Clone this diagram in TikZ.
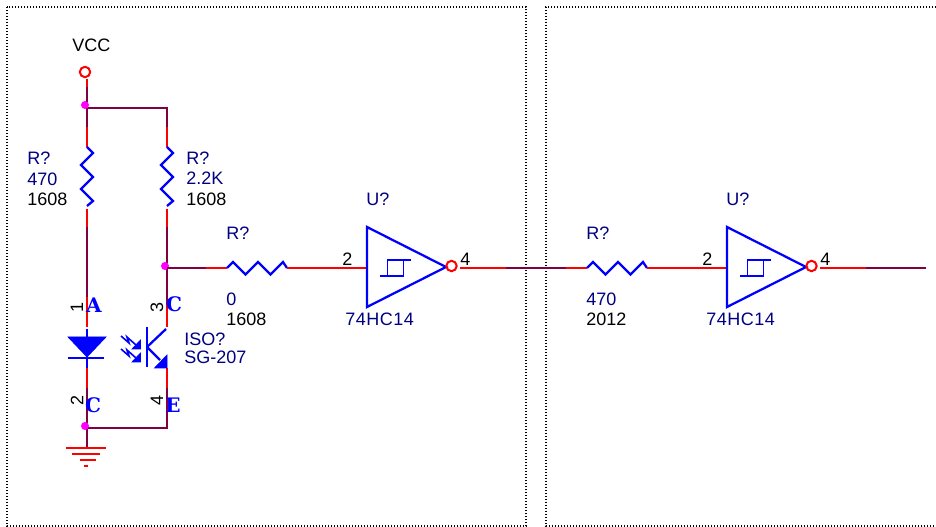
\documentclass[tikz,border=0pt]{standalone}
\usepackage{fontspec}
\setmainfont{Liberation Sans}
\newfontfamily\pinfont{DejaVu Serif}
\usetikzlibrary{positioning,calc}
\definecolor{wirecolor}{HTML}{FF0000}
\definecolor{netcolor}{HTML}{800040}
\definecolor{partcolor}{HTML}{0000FF}
\definecolor{labelcolor}{HTML}{000080}
\definecolor{dotcolor}{HTML}{FF00FF}

\begin{document}
\begin{tikzpicture}[x=0.75pt,y=-0.75pt]

    \tikzstyle{sheet}=[draw=black, line width=0.9pt, dash pattern=on 1.1pt off 1.15pt]
    \tikzstyle{wire}=[draw=wirecolor, line width=1.7pt]
    \tikzstyle{net}=[draw=netcolor, line width=1.7pt, line join=miter]
    \tikzstyle{part}=[draw=partcolor, line width=1.7pt, line join=miter]
    \tikzstyle{solid part}=[part, fill=partcolor, line width=0.5pt]
    \tikzstyle{junction}=[circle, fill=dotcolor, inner sep=0pt, minimum size=6pt]
    \tikzstyle{pinmark}=[circle, draw=wirecolor, line width=1.5pt, inner sep=0pt, minimum size=7.8pt]
    \tikzstyle{txt}=[anchor=west, inner sep=0pt, font=\fontsize{13.5}{15}\selectfont]
    \tikzstyle{ref}=[txt, text=labelcolor]
    \tikzstyle{val}=[txt, text=black]
    \tikzstyle{chip}=[ref, font=\fontsize{13.5}{15}\selectfont\addfontfeature{LetterSpace=2.8}]
    \tikzstyle{pinnum}=[val, anchor=center, rotate=90]
    \tikzstyle{pinname}=[anchor=center, inner sep=0pt, text=partcolor, font=\pinfont\bfseries\fontsize{15}{15}\selectfont]

    \useasboundingbox (0,0) rectangle (936,527);

    % sheets
    \coordinate (leftA) at (7,7);
    \coordinate (leftB) at (526,526);
    \coordinate (rightA) at (546,7);
    \coordinate (rightB) at (546,526);
    \coordinate (rightC) at (936,526);
    \coordinate (rightD) at (936,7);
    \draw[sheet] (leftA) rectangle (leftB);
    \draw[sheet] (rightD) -- (rightA) -- (rightB) -- (rightC);

    % supply and ground nets
    \node (vcc) at (85,72)[pinmark]{};
    \node (vccText) at (72,45)[val]{VCC};
    \coordinate (vccEnd) at (87,79);
    \coordinate (vccNet) at (87,87);
    \coordinate (topL) at (87,108);
    \coordinate (topR) at (167,108);
    \coordinate (r1In) at (87,127);
    \coordinate (r1Top) at (87,147);
    \coordinate (r2In) at (167,127);
    \coordinate (r2Top) at (167,147);
    \coordinate (r1Bot) at (87,209);
    \coordinate (r1Out) at (87,227);
    \coordinate (r2Bot) at (167,209);
    \coordinate (r2Out) at (167,227);
    \coordinate (midR) at (167,268);
    \coordinate (pinA) at (87,297);
    \coordinate (pinAEnd) at (87,327);
    \coordinate (pinC) at (167,305);
    \coordinate (pinCEnd) at (167,327);
    \coordinate (cathEnd) at (87,368);
    \coordinate (cathNet) at (87,388);
    \coordinate (emitEnd) at (167,368);
    \coordinate (emitNet) at (167,388);
    \coordinate (botL) at (87,428);
    \coordinate (botR) at (167,428);
    \coordinate (gnd) at (87,448);

    \draw[wire] (vccEnd) -- (vccNet);
    \draw[net] (vccNet) -- (r1In);
    \draw[net] (topL) -- (topR) -- (r2In);
    \draw[wire] (r1In) -- (r1Top);
    \draw[wire] (r2In) -- (r2Top);
    \draw[wire] (r1Bot) -- (r1Out);
    \draw[wire] (r2Bot) -- (r2Out);
    \draw[net] (r1Out) -- (pinA);
    \draw[net] (r2Out) -- (pinC);
    \draw[wire] (pinA) -- (pinAEnd);
    \draw[wire] (pinC) -- (pinCEnd);
    \draw[wire] (cathEnd) -- (cathNet);
    \draw[wire] (emitEnd) -- (emitNet);
    \draw[net] (cathNet) -- (gnd);
    \draw[net] (emitNet) -- (botR) -- (botL);

    \node (dotTop) at (85,105)[junction]{};
    \node (dotMid) at (165,266)[junction]{};
    \node (dotBot) at (85,426)[junction]{};

    % ground symbol
    \draw[wire] ($(gnd)+(-21,0)$) -- ($(gnd)+(19,0)$);
    \draw[wire] ($(gnd)+(-15,6)$) -- ($(gnd)+(13,6)$);
    \draw[wire] ($(gnd)+(-7,12)$) -- ($(gnd)+(9,12)$);
    \draw[wire] ($(gnd)+(-3,18)$) -- ($(gnd)+(1,18)$);

    % upright resistors
    \draw[part] (r1Top) -- ++(6,6) -- ++(-12,12) -- ++(12,12) -- ++(-12,12) -- ++(12,12) -- ++(-6,5);
    \draw[part] (r2Top) -- ++(6,6) -- ++(-12,12) -- ++(12,12) -- ++(-12,12) -- ++(12,12) -- ++(-6,5);
    \node (r1Ref) at (27,158)[ref]{R?};
    \node (r1Val) at (27,179)[ref]{470};
    \node (r1Pkg) at (27,199)[val]{1608};
    \node (r2Ref) at (186,158)[ref]{R?};
    \node (r2Val) at (186,178)[ref]{2.2K};
    \node (r2Pkg) at (186,199)[val]{1608};

    % diode
    \coordinate (ledIn) at (87,329);
    \coordinate (ledTip) at (87,358);
    \draw[part] (ledIn) -- (ledTip);
    \draw[solid part] (68,337) -- (106,337) -- (87,357) -- cycle;
    \draw[part] (68,358) -- (104,358);
    \draw[part] (ledTip) -- (cathEnd);
    \node (pin1) at (77,307)[pinnum]{1};
    \node (pin2) at (77,400)[pinnum]{2};
    \node (nameA) at (94,305)[pinname]{A};
    \node (nameK) at (93,405)[pinname]{C};

    % photo transistor
    \coordinate (baseTop) at (147,327);
    \coordinate (baseBot) at (147,367);
    \coordinate (baseMid) at (147,347);
    \draw[part] (baseTop) -- (baseBot);
    \draw[part] (baseMid) -- (166,329);
    \draw[part] (baseMid) -- (160,360);
    \draw[solid part] (167,355) -- (167,368) -- (154.5,368) -- cycle;
    \draw[part, line width=1.2pt] (121,336) -- (129,343) -- (127,337) -- (136,345);
    \draw[solid part] (140.5,340) -- (140.5,349) -- (132,349) -- cycle;
    \draw[part, line width=1.2pt] (121,349) -- (129,356) -- (127,350) -- (136,358);
    \draw[solid part] (140.5,353) -- (140.5,362) -- (132,362) -- cycle;
    \node (pin3) at (157,307)[pinnum]{3};
    \node (pin4) at (157,400)[pinnum]{4};
    \node (nameC) at (174,304)[pinname]{C};
    \node (nameE) at (173,405)[pinname]{E};
    \node (isoRef) at (184,339)[ref]{ISO?};
    \node (isoVal) at (184,357)[ref]{SG-207};

    % first stage
    \coordinate (r3Net) at (206,268);
    \coordinate (r3In) at (227,268);
    \coordinate (r3Out) at (287,268);
    \coordinate (u1In) at (366,268);
    \draw[net] (midR) -- (r3Net);
    \draw[wire] (r3Net) -- (r3In);
    \draw[part] (r3In) -- ++(6,-6) -- ++(12.5,12.5) -- ++(12.5,-12.5) -- ++(12.5,12.5) -- ++(12.5,-12.5) -- ++(4,6);
    \draw[wire] (r3Out) -- (u1In);
    \node (r3Ref) at (226,233)[ref]{R?};
    \node (r3Val) at (226,299)[ref]{0};
    \node (r3Pkg) at (226,319)[val]{1608};

    \draw[part] (367,227) -- (367,307) -- (446,267) -- cycle;
    \draw[part, line width=1.4pt] (380,276) -- (403.5,276) -- (403.5,260);
    \draw[part, line width=1.4pt] (387.5,276) -- (387.5,260) -- (411,260);
    \node (u1Bub) at (451.5,266)[pinmark]{};
    \node (u1Ref) at (366,199)[ref]{U?};
    \node (u1Val) at (345,319)[chip]{74HC14};
    \node (u1P2) at (342,259)[val]{2};
    \node (u1P4) at (460,259)[val]{4};

    % link over the sheet border
    \coordinate (u1Out) at (460,268);
    \coordinate (linkA) at (506,268);
    \coordinate (linkB) at (566,268);
    \coordinate (r4In) at (587,268);
    \coordinate (r4Out) at (647,268);
    \coordinate (u2In) at (726,268);
    \draw[wire] (u1Out) -- (linkA);
    \draw[net] (linkA) -- (linkB);
    \draw[wire] (linkB) -- (r4In);

    % second stage
    \draw[part] (r4In) -- ++(6,-6) -- ++(12.5,12.5) -- ++(12.5,-12.5) -- ++(12.5,12.5) -- ++(12.5,-12.5) -- ++(4,6);
    \draw[wire] (r4Out) -- (u2In);
    \node (r4Ref) at (586,233)[ref]{R?};
    \node (r4Val) at (586,299)[ref]{470};
    \node (r4Pkg) at (586,319)[val]{2012};

    \draw[part] (727,227) -- (727,307) -- (806,267) -- cycle;
    \draw[part, line width=1.4pt] (740,276) -- (763.5,276) -- (763.5,260);
    \draw[part, line width=1.4pt] (747.5,276) -- (747.5,260) -- (771,260);
    \node (u2Bub) at (811.5,266)[pinmark]{};
    \node (u2Ref) at (726,199)[ref]{U?};
    \node (u2Val) at (706,319)[chip]{74HC14};
    \node (u2P2) at (702,259)[val]{2};
    \node (u2P4) at (820,259)[val]{4};

    \coordinate (u2Out) at (820,268);
    \coordinate (tailA) at (866,268);
    \coordinate (tailB) at (926,268);
    \draw[wire] (u2Out) -- (tailA);
    \draw[net] (tailA) -- (tailB);

\end{tikzpicture}
\end{document}
